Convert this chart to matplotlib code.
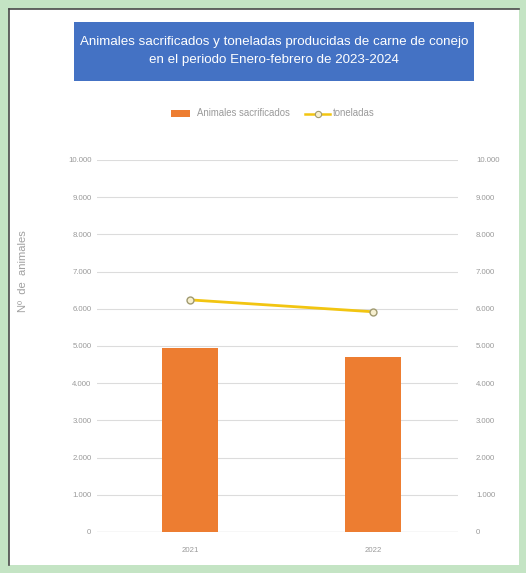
import matplotlib

matplotlib.use("Agg")
import matplotlib.pyplot as plt  # noqa: E402
from matplotlib.lines import Line2D  # noqa: E402
from matplotlib.patches import Rectangle  # noqa: E402

years = ["2021", "2022"]
animales = [4950, 4700]
toneladas = [6240, 5920]
ticks = list(range(0, 10001, 1000))
tick_labels = ["0"] + [f"{t // 1000}.000" for t in ticks[1:]]

W, H = 526, 573
plt.rcParams["font.family"] = ["Liberation Sans", "DejaVu Sans"]
fig = plt.figure(figsize=(W / 100, H / 100), dpi=100, facecolor="#c4e4c4")


def fx(px):
    return px / W


def fy(py):
    return 1 - py / H


# white panel with dark left/top edge
fig.patches.append(Rectangle((fx(9), fy(565)), fx(510), (565 - 9) / H, transform=fig.transFigure,
                             facecolor="white", edgecolor="none", zorder=0))
fig.lines.append(Line2D([fx(8.5), fx(8.5)], [fy(565), fy(8.5)], transform=fig.transFigure, color="#4a4a4a", lw=1.2))
fig.lines.append(Line2D([fx(8.5), fx(519)], [fy(8.5), fy(8.5)], transform=fig.transFigure, color="#4a4a4a", lw=1.2))

# title box
fig.patches.append(Rectangle((fx(74), fy(81)), fx(400), (81 - 22) / H, transform=fig.transFigure,
                             facecolor="#4472c4", edgecolor="none", zorder=1))
fig.text(fx(274), fy(51), "Animales sacrificados y toneladas producidas de carne de conejo\nen el periodo Enero-febrero de 2023-2024",
         ha="center", va="center", color="white", fontsize=9.6, linespacing=1.6, zorder=2)

ax = fig.add_axes([fx(97), fy(532), fx(458 - 97), (532 - 160) / H])
ax.set_zorder(2)
ax.patch.set_alpha(0)
x = [0, 1]
ax.bar(x, animales, width=0.306, color="#ed7d31", zorder=2)
ax.set_xlim(-0.508, 1.464)
ax.set_ylim(0, 10000)
ax.set_yticks(ticks)
ax.set_yticklabels(tick_labels)
ax.set_xticks(x)
ax.set_xticklabels(years)
ax.grid(axis="y", color="#dcdcdc", lw=0.8, zorder=0)
for s in ax.spines.values():
    s.set_visible(False)
ax.axhline(0, color="#d4d4d4", lw=0.9, zorder=1)
ax.tick_params(axis="both", length=0, labelsize=5.6, labelcolor="#9a9a9a")
ax.tick_params(axis="y", pad=4)
ax.tick_params(axis="x", pad=11)
ax.set_ylabel("Nº  de  animales", fontsize=8, color="#a0a0a0")
ax.yaxis.set_label_coords((28 - 97) / (458 - 97), 0.70)

ax2 = ax.twinx()
ax2.set_zorder(3)
ax2.patch.set_alpha(0)
ax2.plot(x, toneladas, color="#f2c511", lw=2, marker="o", ms=5, mfc="#f7f0d0", mec="#a09a70", mew=1, zorder=3)
ax2.set_ylim(0, 10000)
ax2.set_yticks(ticks)
ax2.set_yticklabels(tick_labels)
for s in ax2.spines.values():
    s.set_visible(False)
ax2.tick_params(axis="y", length=0, labelsize=5.6, labelcolor="#9a9a9a", pad=13)

# legend
fig.patches.append(Rectangle((fx(171), fy(117)), fx(19), 7 / H, transform=fig.transFigure,
                             facecolor="#ed7d31", edgecolor="none", zorder=1))
fig.text(fx(197), fy(113.5), "Animales sacrificados", fontsize=6.9, color="#9a9a9a", va="center")
fig.lines.append(Line2D([fx(305), fx(330)], [fy(113.5), fy(113.5)], transform=fig.transFigure,
                        color="#f2c511", lw=1.8, zorder=1))
fig.lines.append(Line2D([fx(317.5)], [fy(113.5)], transform=fig.transFigure, color="#f2c511",
                        marker="o", ms=4.5, mfc="#f7f0d0", mec="#a09a70", mew=0.8, lw=0, zorder=2))
fig.text(fx(333), fy(113.5), "toneladas", fontsize=6.9, color="#9a9a9a", va="center")

fig.savefig("out.png", dpi=100, facecolor=fig.get_facecolor())
